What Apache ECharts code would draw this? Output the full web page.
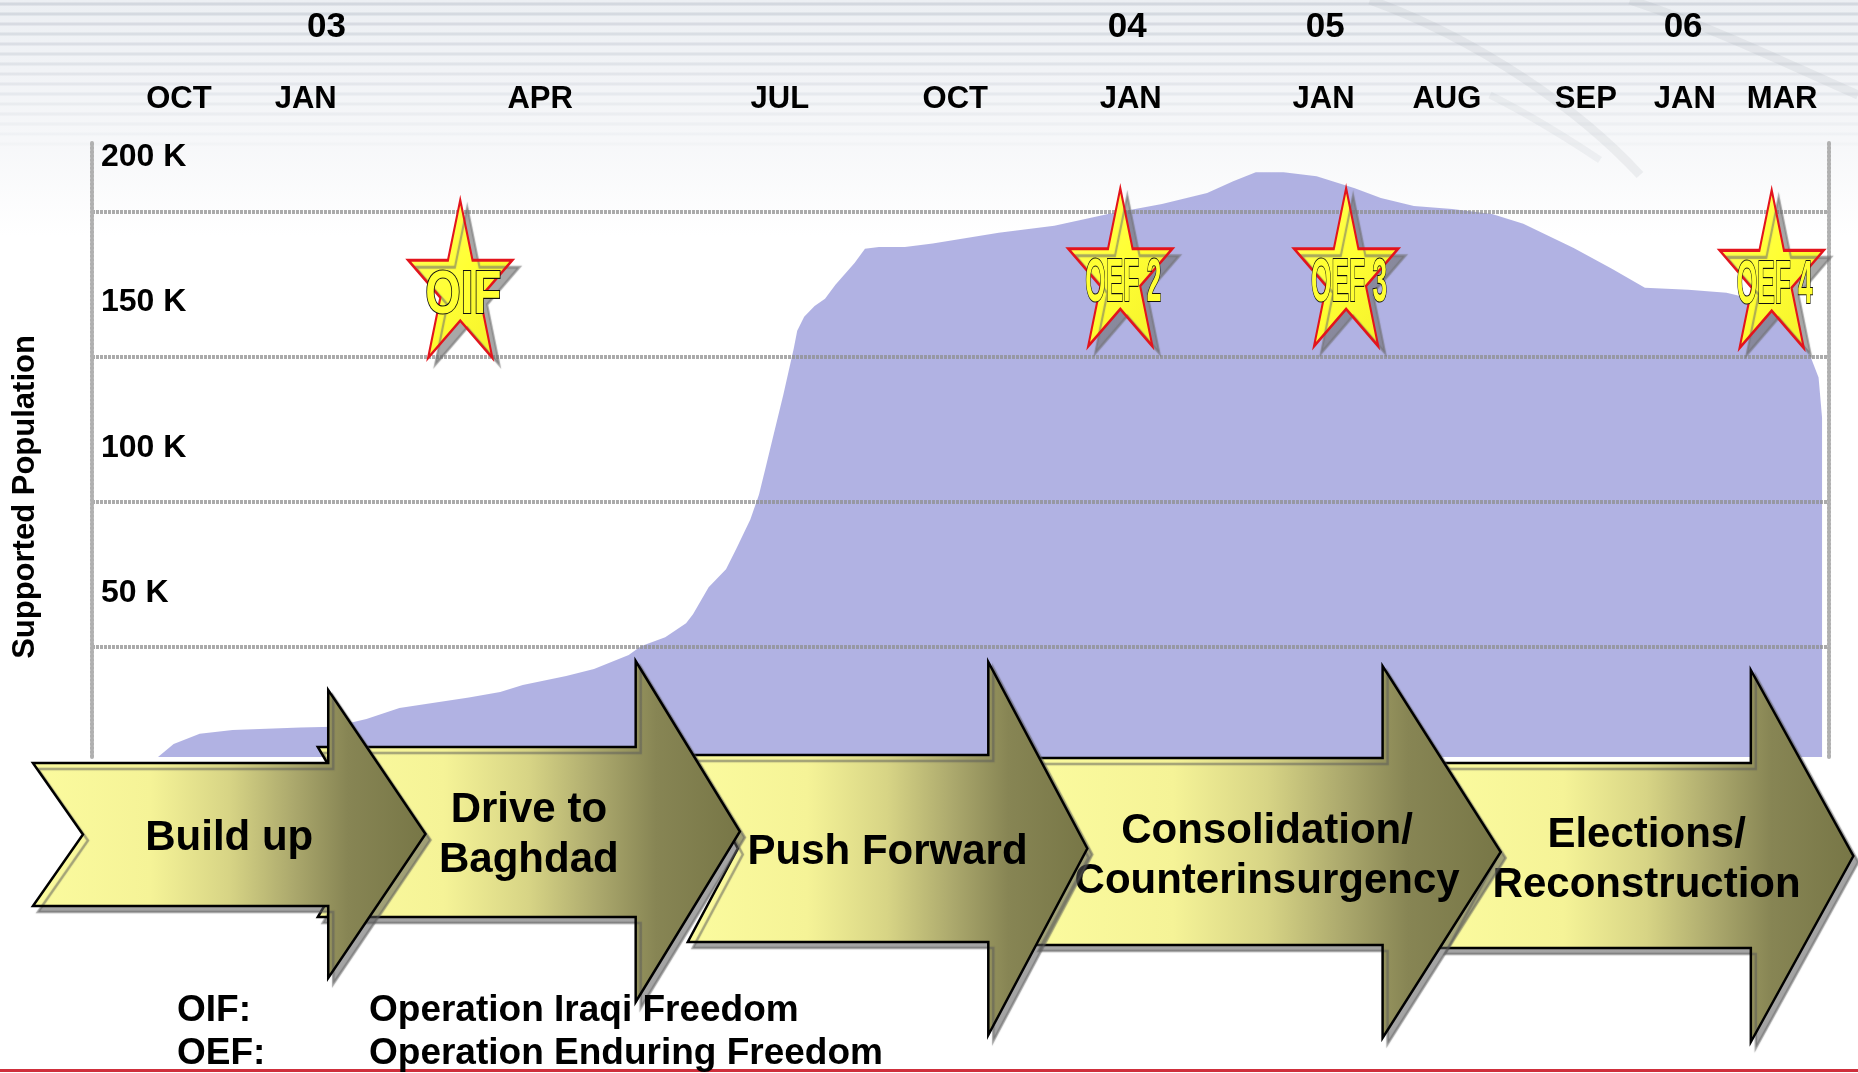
<!DOCTYPE html>
<html>
<head>
<meta charset="utf-8">
<script src="https://cdn.jsdelivr.net/npm/echarts@6/dist/echarts.min.js"></script>
<style>
  html, body { margin: 0; padding: 0; background: #ffffff; }
  #chart { width: 1858px; height: 1073px; }
</style>
</head>
<body>
<div id="chart"></div>
<script>
// ---------------- DATA ----------------
// x = position along the (non-linear) briefing timeline, 0..100 across the plot
const monthLabels = ['OCT', 'JAN', 'APR', 'JUL', 'OCT', 'JAN', 'JAN', 'AUG', 'SEP', 'JAN', 'MAR'];
const monthPos    = [5.0, 12.3, 25.8, 39.6, 49.7, 59.8, 70.9, 78.0, 86.0, 91.7, 97.3];
const yearLabels  = ['03', '04', '05', '06'];
const yearPos     = [13.5, 59.6, 71.0, 91.6];

const yTickValues = [50000, 100000, 150000, 200000];

// Supported population (thousands) along the timeline
const popX = [3.8, 4.7, 6.2, 8.1, 12.0, 13.9, 15.8, 17.7, 19.6, 21.7, 23.5, 24.8, 27.3, 28.9,
  30.9, 31.6, 33.0, 34.2, 34.6, 35.5, 36.5, 37.1, 37.9, 38.4, 38.8, 39.2, 39.8, 40.4, 40.6,
  41.0, 41.6, 42.2, 42.8, 43.9, 44.5, 45.3, 46.8, 48.4, 52.2, 55.4, 58.5, 61.6, 64.2, 65.7,
  67.0, 68.6, 70.5, 72.7, 74.2, 76.1, 78.3, 80.6, 82.4, 85.3, 87.5, 89.4, 91.9, 94.1, 95.3,
  96.9, 98.8, 99.4, 99.6, 99.6];
const popK = [12, 16.5, 20, 21.3, 22.2, 22.4, 25.1, 28.9, 30.6, 32.5, 34.4, 36.8, 39.9, 42.3,
  47.2, 50.2, 53.3, 58.1, 61.2, 70.5, 76.7, 83.9, 93.9, 102.5, 112.2, 122.1, 136.9, 152.8, 158.9,
  163.8, 167.5, 170.0, 174.8, 182.3, 187.2, 187.8, 187.8, 189.0, 192.7, 195.1, 199.2, 202.6, 206.4, 210.5,
  213.6, 213.6, 212.2, 208.1, 204.7, 201.9, 200.9, 199.2, 195.8, 187.5, 180.3, 173.8, 173.1, 172.0, 170.3,
  166.9, 152.1, 142.8, 129.0, 12];

// Operation milestones (stars)
const starLabels = ['OIF', 'OEF 2', 'OEF 3', 'OEF 4'];
const starX = [21.2, 59.2, 72.2, 96.7];
const starK = [176.8, 180.8, 180.8, 180.2];

// Campaign phases (arrows): tail, head base, tip along the timeline
const phaseNames    = ['Build up', 'Drive to\nBaghdad', 'Push Forward', 'Consolidation/\nCounterinsurgency', 'Elections/\nReconstruction'];
const phaseStart    = [-3.4, 13.0, 34.3, 54.2, 77.6];
const phaseHeadBase = [13.6, 31.3, 51.6, 74.3, 95.5];
const phaseEnd      = [19.2, 37.3, 57.3, 81.1, 101.4];

const footAbbr = ['OIF:', 'OEF:'];
const footText = ['Operation Iraqi Freedom', 'Operation Enduring Freedom'];

// ---------------- LAYOUT / STYLE ----------------
const FONT = '"Liberation Sans", Arial, Helvetica, sans-serif';
const yMin = 12000, yMax = 224000;
// vertical geometry of each arrow, in pixels: [bodyTop, bodyBottom, headTop, headBottom]
const arrowBox = [
  [763, 906, 690, 978],
  [747, 917, 661, 1002],
  [755, 942, 662, 1035],
  [758, 945, 666, 1038],
  [763, 948, 670, 1042]
];
const notchDepth = 50;
const starTextWidth = 76;

const measureCtx = document.createElement('canvas').getContext('2d');
function textWidth(t, font) { measureCtx.font = font; return measureCtx.measureText(t).width; }

const chart = echarts.init(document.getElementById('chart'), null, { renderer: 'canvas' });

const areaData = popX.map((x, i) => [x, popK[i] * 1000]);
const starData = starX.map((x, i) => [x, starK[i] * 1000]);
const phaseData = phaseStart.map((s, i) => [s, phaseHeadBase[i], phaseEnd[i], yMin]);

const starPath = 'path://M0,-100 L22.45,-30.9 L95.1,-30.9 L36.33,11.8 L58.78,80.9 L0,38.2 L-58.78,80.9 L-36.33,11.8 L-95.1,-30.9 L-22.45,-30.9 Z';

// background decoration
const bgGraphics = [
  { type: 'rect', z: -20, silent: true, shape: { x: 0, y: 0, width: 1858, height: 1073 },
    style: { fill: new echarts.graphic.LinearGradient(0, 0, 0, 1, [
      { offset: 0, color: '#eceff3' }, { offset: 0.13, color: '#f6f7f9' },
      { offset: 0.22, color: '#ffffff' }, { offset: 1, color: '#ffffff' }]) } }
];
for (let y = 4; y < 150; y += 10) {
  bgGraphics.push({ type: 'line', z: -19, silent: true,
    shape: { x1: 0, y1: y, x2: 1858, y2: y },
    style: { stroke: 'rgba(190,196,206,' + (0.55 * (1 - y / 160)).toFixed(3) + ')', lineWidth: 3 } });
}
bgGraphics.push(
  { type: 'bezierCurve', z: -18, silent: true,
    shape: { x1: 1370, y1: 0, x2: 1640, y2: 175, cpx1: 1480, cpy1: 40, cpx2: 1580, cpy2: 110 },
    style: { stroke: 'rgba(150,155,165,0.13)', lineWidth: 9, fill: null } },
  { type: 'bezierCurve', z: -18, silent: true,
    shape: { x1: 1630, y1: 0, x2: 1858, y2: 95, cpx1: 1720, cpy1: 30, cpx2: 1800, cpy2: 70 },
    style: { stroke: 'rgba(150,155,165,0.13)', lineWidth: 9, fill: null } },
  { type: 'bezierCurve', z: -18, silent: true,
    shape: { x1: 1490, y1: 95, x2: 1600, y2: 160, cpx1: 1530, cpy1: 115, cpx2: 1570, cpy2: 140 },
    style: { stroke: 'rgba(150,155,165,0.10)', lineWidth: 7, fill: null } }
);

const fgGraphics = [
  { type: 'text', z: 100, silent: true, x: 25, y: 497, rotation: Math.PI / 2,
    style: { text: 'Supported Population', font: 'bold 31px ' + FONT, fill: '#000',
      align: 'center', verticalAlign: 'middle' } },
  { type: 'rect', z: 100, silent: true, shape: { x: 0, y: 1069, width: 1858, height: 3 },
    style: { fill: '#cf2f3c' } }
];
footAbbr.forEach((a, i) => {
  const y = 1011 + i * 43;
  fgGraphics.push({ type: 'text', z: 100, silent: true, x: 177, y: y,
    style: { text: a, font: 'bold 37px ' + FONT, fill: '#000', align: 'left', verticalAlign: 'middle' } });
  fgGraphics.push({ type: 'text', z: 100, silent: true, x: 369, y: y,
    style: { text: footText[i], font: 'bold 37px ' + FONT, fill: '#000', align: 'left', verticalAlign: 'middle' } });
});

const axisDotted = { color: '#b0b0b0', width: 4, type: [2, 2] };

const option = {
  animation: false,
  backgroundColor: '#ffffff',
  graphic: { elements: bgGraphics.concat(fgGraphics) },
  grid: { left: 92, right: 29, top: 142, bottom: 316, containLabel: false },
  xAxis: [
    {
      type: 'value', position: 'top', min: 0, max: 100,
      axisLine: { show: false }, axisTick: { show: false, customValues: monthPos },
      splitLine: { show: false },
      axisLabel: {
        customValues: monthPos, margin: 27, color: '#000',
        fontFamily: FONT, fontWeight: 'bold', fontSize: 31, lineHeight: 31,
        formatter: function (v) {
          const i = monthPos.findIndex(p => Math.abs(p - v) < 1e-6);
          return i >= 0 ? monthLabels[i] : '';
        }
      }
    },
    {
      type: 'value', position: 'top', min: 0, max: 100, offset: 70,
      axisLine: { show: false }, axisTick: { show: false, customValues: yearPos },
      splitLine: { show: false },
      axisLabel: {
        customValues: yearPos, margin: 27, color: '#000',
        fontFamily: FONT, fontWeight: 'bold', fontSize: 35, lineHeight: 35,
        formatter: function (v) {
          const i = yearPos.findIndex(p => Math.abs(p - v) < 1e-6);
          return i >= 0 ? yearLabels[i] : '';
        }
      }
    }
  ],
  yAxis: [
    {
      type: 'value', position: 'left', min: yMin, max: yMax, z: 4,
      axisLine: { show: true, onZero: false, lineStyle: axisDotted },
      axisTick: { show: false, customValues: yTickValues },
      splitLine: { show: true,
        lineStyle: { color: '#8f8f8f', width: 4, type: [3, 1], opacity: 0.75 } },
      axisLabel: {
        customValues: yTickValues, inside: true, margin: 9,
        color: '#000', fontFamily: FONT, fontWeight: 'bold', fontSize: 32, lineHeight: 32,
        verticalAlign: 'bottom', padding: [0, 0, 38, 0],
        formatter: v => (v / 1000) + ' K'
      }
    },
    {
      type: 'value', position: 'right', min: yMin, max: yMax, z: 4,
      axisLine: { show: true, onZero: false, lineStyle: axisDotted },
      axisTick: { show: false }, splitLine: { show: false }, axisLabel: { show: false }
    }
  ],
  series: [
    {
      name: 'Supported Population', type: 'line', xAxisIndex: 0, yAxisIndex: 0,
      data: areaData, symbol: 'none', silent: true, z: 3,
      lineStyle: { width: 0, opacity: 0 },
      areaStyle: { color: '#9092d7', opacity: 0.7 }
    },
    {
      name: 'Phases', type: 'custom', xAxisIndex: 0, yAxisIndex: 0,
      data: phaseData, encode: { x: [0, 1, 2], y: 3 }, clip: false, silent: true, z: 5,
      renderItem: function (params, api) {
        const i = params.dataIndex;
        const b = arrowBox[i];
        const yv = api.value(3);
        const x0 = api.coord([api.value(0), yv])[0];
        const xb = api.coord([api.value(1), yv])[0];
        const xt = api.coord([api.value(2), yv])[0];
        const tipY = (b[2] + b[3]) / 2;
        const midBody = (b[0] + b[1]) / 2;
        const pts = [[x0, b[0]], [xb, b[0]], [xb, b[2]], [xt, tipY], [xb, b[3]], [xb, b[1]],
                     [x0, b[1]], [x0 + notchDepth, midBody]];
        return {
          type: 'group',
          children: [
            { type: 'polygon', z2: 100 - 10 * i, shape: { points: pts },
              style: {
                fill: new echarts.graphic.LinearGradient(0, 0, 1, 0, [
                  { offset: 0, color: '#fbfb9e' }, { offset: 0.3, color: '#f5f397' },
                  { offset: 0.5, color: '#d7d485' }, { offset: 0.66, color: '#aca96d' },
                  { offset: 0.8, color: '#878554' }, { offset: 1, color: '#777646' }]),
                stroke: '#000', lineWidth: 2.5, lineJoin: 'miter',
                shadowColor: 'rgba(90,90,90,0.55)', shadowBlur: 1, shadowOffsetX: 5, shadowOffsetY: 6
              } },
            { type: 'text', z2: 101 - 10 * i,
              style: { text: phaseNames[i], x: (x0 + xt) / 2, y: tipY + 4,
                align: 'center', verticalAlign: 'middle',
                font: 'bold 42px ' + FONT, lineHeight: 50, fill: '#000' } }
          ]
        };
      }
    },
    {
      name: 'Operations', type: 'scatter', xAxisIndex: 0, yAxisIndex: 0,
      data: starData, symbol: starPath, symbolSize: [104, 158], symbolKeepAspect: false,
      silent: true, z: 6,
      itemStyle: {
        color: new echarts.graphic.LinearGradient(0, 0, 1, 1, [
          { offset: 0, color: '#ffff66' }, { offset: 0.5, color: '#ffff33' }, { offset: 1, color: '#f2ee2a' }]),
        borderColor: '#e3141c', borderWidth: 2.5, opacity: 1,
        shadowColor: 'rgba(110,110,110,0.6)', shadowBlur: 1, shadowOffsetX: 7, shadowOffsetY: 7
      }
    },
    {
      name: 'Operation labels', type: 'custom', xAxisIndex: 0, yAxisIndex: 0,
      data: starData, encode: { x: 0, y: 1 }, clip: false, silent: true, z: 7,
      renderItem: function (params, api) {
        const p = api.coord([api.value(0), api.value(1)]);
        const t = starLabels[params.dataIndex];
        const font = 'bold 62px ' + FONT;
        const sx = starTextWidth / textWidth(t, font);
        return {
          type: 'text', x: p[0] + 3, y: p[1] + 17, scaleX: sx, scaleY: 1,
          style: { text: t, x: 0, y: 0, align: 'center', verticalAlign: 'middle',
            font: font, fill: '#ffff33', stroke: '#111', lineWidth: 2.2 }
        };
      }
    }
  ]
};

chart.setOption(option);
</script>
</body>
</html>
